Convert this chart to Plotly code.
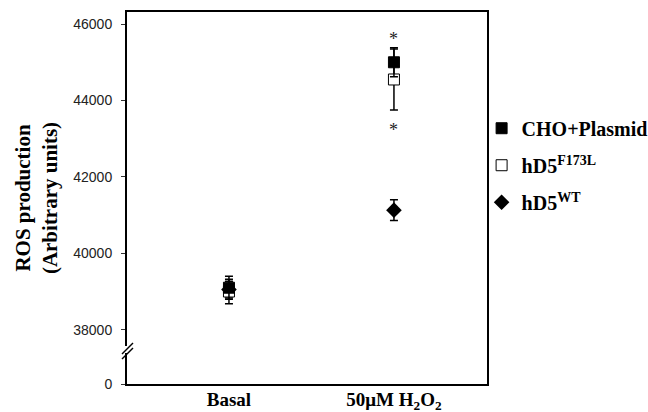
import plotly.graph_objects as go

# ---- data ----
categories = ["Basal", "50μM H<sub>2</sub>O<sub>2</sub>"]
cat_pos = [0, 1]

series_names = ["CHO+Plasmid", "hD5<sup>F173L</sup>", "hD5<sup>WT</sup>"]
cho_vals = [39100, 45000]
cho_err = [300, 380]
f173l_vals = [39000, 44550]
f173l_err = [320, 800]
wt_vals = [39050, 41130]
wt_err = [220, 270]

# asterisk positions (values) for H2O2 group
star_vals = [45700, 43300]

# broken axis: real tick values and their labels
ytick_vals = [36580, 38000, 40000, 42000, 44000, 46000]
ytick_text = ["0", "38000", "40000", "42000", "44000", "46000"]

SERIF = "Times New Roman, Liberation Serif, DejaVu Serif, serif"
SANS = "Arial, Liberation Sans, sans-serif"

W, H = 648, 412
L, R, T, B = 127, 161, 12, 28
pw, ph = W - L - R, H - T - B


def px2paper(px, py):
    return (px - L) / pw, (H - B - py) / ph


fig = go.Figure()

# drawing order: diamond, open square, filled square (on top)
fig.add_trace(go.Scatter(
    x=cat_pos, y=wt_vals, mode="markers", name=series_names[2],
    legendgroup="c", legendrank=3,
    marker=dict(symbol="diamond", size=12, color="black", line=dict(width=0)),
    error_y=dict(type="data", array=wt_err, color="black", thickness=1.5, width=4),
))
fig.add_trace(go.Scatter(
    x=cat_pos, y=f173l_vals, mode="markers", name=series_names[1],
    legendgroup="b", legendrank=2,
    marker=dict(symbol="square", size=11, color="white", line=dict(width=1, color="black")),
    error_y=dict(type="data", array=f173l_err, color="black", thickness=1.5, width=4),
))
fig.add_trace(go.Scatter(
    x=cat_pos, y=cho_vals, mode="markers", name=series_names[0],
    legendgroup="a", legendrank=1,
    marker=dict(symbol="square", size=11, color="black", line=dict(width=1, color="black")),
    error_y=dict(type="data", array=cho_err, color="black", thickness=1.5, width=4),
))

for v in star_vals:
    fig.add_annotation(x=cat_pos[1], y=v, text="*", showarrow=False,
                       font=dict(family=SERIF, size=18, color="#222"),
                       yanchor="middle", yshift=-3)

shapes = []
# white gap over left axis for the break
x0, y0 = px2paper(122, 346)
x1, y1 = px2paper(132, 353)
shapes.append(dict(type="rect", xref="paper", yref="paper", x0=x0, x1=x1, y0=y1, y1=y0,
                   fillcolor="white", line=dict(width=0), layer="above"))
for off in (0, 5):
    a = px2paper(122, 354 + off)
    b = px2paper(133, 343 + off)
    shapes.append(dict(type="line", xref="paper", yref="paper", x0=a[0], y0=a[1], x1=b[0], y1=b[1],
                       line=dict(color="black", width=1.5), layer="above"))

fig.update_layout(
    width=W, height=H,
    margin=dict(l=L, r=R, t=T, b=B, pad=0, autoexpand=False),
    paper_bgcolor="white", plot_bgcolor="white",
    shapes=shapes,
    showlegend=True,
    legend=dict(x=0.985, y=0.74, xanchor="left", yanchor="top",
                font=dict(family=SERIF, size=20, color="black", weight="bold"),
                tracegroupgap=8, bgcolor="rgba(0,0,0,0)", itemwidth=30),
    xaxis=dict(range=[-0.618, 1.564], tickvals=cat_pos, ticktext=categories,
               showline=True, linecolor="black", linewidth=2, mirror=True, automargin=False,
               ticks="", showgrid=False, zeroline=False, ticklabelstandoff=-3,
               tickfont=dict(family=SERIF, size=19, color="black", weight="bold")),
    yaxis=dict(range=[36580, 46316], tickvals=ytick_vals, ticktext=ytick_text,
               showline=True, linecolor="black", linewidth=2, mirror=True, automargin=False,
               ticks="outside", ticklen=4, tickcolor="#333", showgrid=False, zeroline=False,
               ticklabelstandoff=6,
               tickfont=dict(family=SANS, size=14, color="#222"),
               title=dict(text="ROS production<br>(Arbitrary units)", standoff=10,
                          font=dict(family=SERIF, size=21, color="black", weight="bold"))),
)

fig.write_html("out.html")
